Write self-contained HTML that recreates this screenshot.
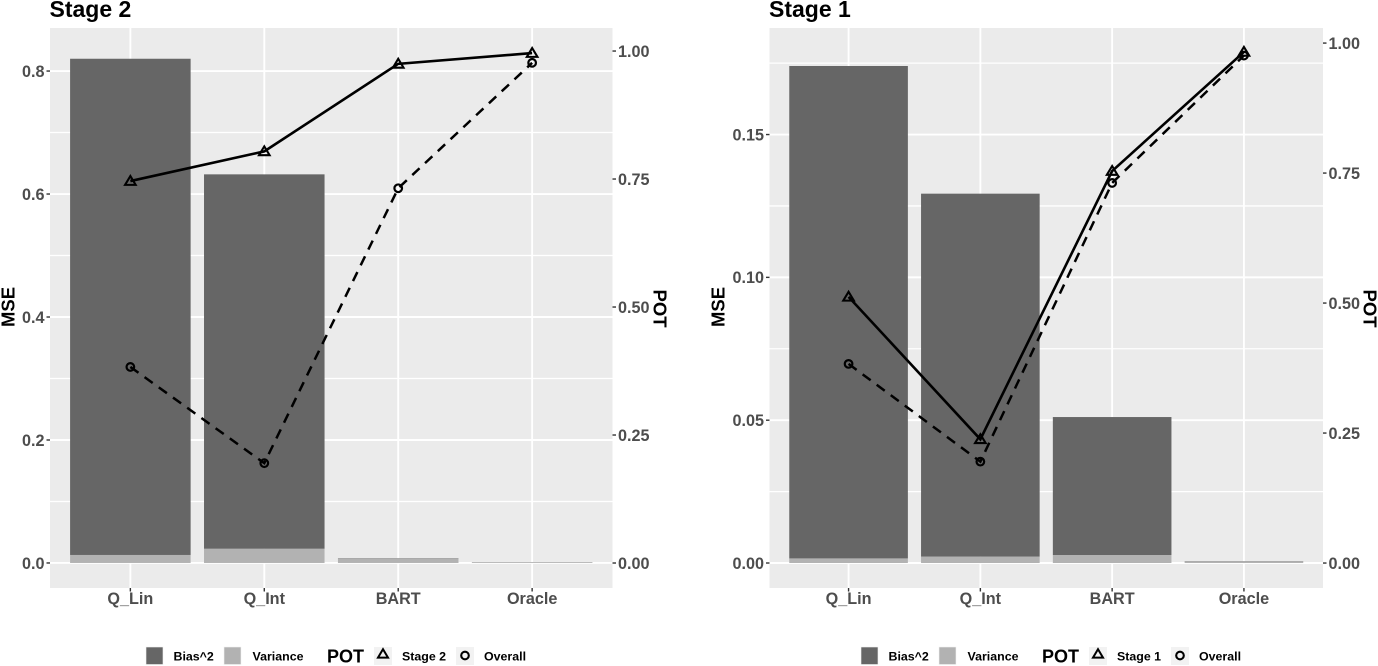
<!DOCTYPE html>
<html lang="en">
<head>
<meta charset="utf-8">
<title>Stage 2 and Stage 1 MSE and POT</title>
<style>
html,body{margin:0;padding:0;background:#fff;width:1378px;height:666px;overflow:hidden}
svg{display:block}
text{font-family:"Liberation Sans",Arial,sans-serif;font-weight:bold}
.tick{font-size:16.2px;fill:#4d4d4d}
.axt{font-size:18.5px;fill:#000}
.ttl{font-size:23px;fill:#000}
.leg{font-size:12.4px;fill:#000}
.legt{font-size:18px;fill:#000}
</style>
</head>
<body>
<svg id="figure" xmlns="http://www.w3.org/2000/svg" width="1378" height="666" viewBox="0 0 1378 666"></svg>
<script>
const categories = ["Q_Lin", "Q_Int", "BART", "Oracle"];

const stage2Bias = [0.807, 0.609, 0.0005, 0.0003];
const stage2Variance = [0.013, 0.023, 0.0075, 0.001];
const stage2PotStage = [0.746, 0.804, 0.975, 0.996];
const stage2PotOverall = [0.383, 0.195, 0.732, 0.977];
const stage2MseTicks = ["0.0", "0.2", "0.4", "0.6", "0.8"];
const stage2PotTicks = ["0.00", "0.25", "0.50", "0.75", "1.00"];

const stage1Bias = [0.1724, 0.1271, 0.0483, 0.0001];
const stage1Variance = [0.0016, 0.0022, 0.0028, 0.0006];
const stage1PotStage = [0.512, 0.238, 0.754, 0.983];
const stage1PotOverall = [0.383, 0.195, 0.731, 0.976];
const stage1MseTicks = ["0.00", "0.05", "0.10", "0.15"];
const stage1PotTicks = ["0.00", "0.25", "0.50", "0.75", "1.00"];

const NS = "http://www.w3.org/2000/svg";
const figure = document.getElementById("figure");

function make(parent, tag, props, content) {
  const el = document.createElementNS(NS, tag);
  for (const k in props) el.setAttribute(k, props[k]);
  if (content !== undefined) el.textContent = content;
  parent.appendChild(el);
  return el;
}

function drawPanel(cfg) {
  const xOf = v => cfg.left + (v + 1 - 0.4) / 4.2 * (cfg.right - cfg.left);
  const bandWidth = (cfg.right - cfg.left) / 4.2;
  const mseY = v => cfg.bottom - (v - cfg.mseDomain[0]) / (cfg.mseDomain[1] - cfg.mseDomain[0]) * (cfg.bottom - cfg.top);
  const potY = v => cfg.bottom - (v - cfg.potDomain[0]) / (cfg.potDomain[1] - cfg.potDomain[0]) * (cfg.bottom - cfg.top);

  const g = make(figure, "g", {});
  
  

  const title = make(g, "text", {x: cfg.left - 0.5, y: 17, class: "ttl"}, cfg.title);
  
  

  const bg = make(g, "rect", {x: cfg.left, y: cfg.top, width: cfg.right - cfg.left, height: cfg.bottom - cfg.top, fill: "#ebebeb"});
  
  

  // minor horizontal grid (midpoints of major ticks, extended one step above)
  const majors = cfg.mseTicks.map(Number);
  const step = majors[1] - majors[0];
  for (let i = 0; i < majors.length + 1; i++) {
    const v = majors[0] + step * (i + 0.5);
    if (mseY(v) <= cfg.top) continue;
    const minor = make(g, "line", {x1: cfg.left, x2: cfg.right, y1: mseY(v), y2: mseY(v), stroke: "#fff", "stroke-width": 1.3});
    
    
  }
  cfg.mseTicks.forEach(t => {
    const major = make(g, "line", {x1: cfg.left, x2: cfg.right, y1: mseY(+t), y2: mseY(+t), stroke: "#fff", "stroke-width": 1.9});
    
    
  });
  categories.forEach((c, i) => {
    const vline = make(g, "line", {x1: xOf(i), x2: xOf(i), y1: cfg.top, y2: cfg.bottom, stroke: "#fff", "stroke-width": 1.9});
    
    
  });

  // stacked bars
  categories.forEach((c, i) => {
    const w = bandWidth * 0.9;
    const v = cfg.variance[i], b = cfg.bias[i];
    const biasBar = make(g, "rect", {x: xOf(i) - w / 2, y: mseY(v + b), width: w, height: mseY(v) - mseY(v + b), fill: "#666666"});
    
    
    const varBar = make(g, "rect", {x: xOf(i) - w / 2, y: mseY(v), width: w, height: mseY(0) - mseY(v), fill: "#b2b2b2"});
    
    
  });

  // POT lines
  const stagePts = cfg.potStage.map((v, i) => xOf(i) + "," + potY(v)).join(" ");
  const overallPts = cfg.potOverall.map((v, i) => xOf(i) + "," + potY(v)).join(" ");
  const overallLine = make(g, "polyline", {points: overallPts, fill: "none", stroke: "#000", "stroke-width": 2.5, "stroke-dasharray": "10 7.5"});
  
  
  const stageLine = make(g, "polyline", {points: stagePts, fill: "none", stroke: "#000", "stroke-width": 2.6});
  
  

  cfg.potStage.forEach((v, i) => {
    const x = xOf(i), y = potY(v);
    const tri = make(g, "polygon", {points: (x - 5.3) + "," + (y + 3.8) + " " + (x + 5.3) + "," + (y + 3.8) + " " + x + "," + (y - 5), fill: "none", stroke: "#000", "stroke-width": 2.1});
    
    
  });
  cfg.potOverall.forEach((v, i) => {
    const pt = make(g, "circle", {cx: xOf(i), cy: potY(v), r: 3.8, fill: "none", stroke: "#000", "stroke-width": 2.2});
    
    
  });

  // left axis
  cfg.mseTicks.forEach(t => {
    const y = mseY(+t);
    const mark = make(g, "line", {x1: cfg.left - 3.5, x2: cfg.left, y1: y, y2: y, stroke: "#333", "stroke-width": 1.4});
    
    
    const lab = make(g, "text", {x: cfg.left - 5.5, y: y + 5.8, "text-anchor": "end", class: "tick"}, t);
    
    
  });
  // right axis
  cfg.potTicks.forEach(t => {
    const y = potY(+t);
    const mark = make(g, "line", {x1: cfg.right, x2: cfg.right + 3.5, y1: y, y2: y, stroke: "#333", "stroke-width": 1.4});
    
    
    const lab = make(g, "text", {x: cfg.right + 5.5, y: y + 5.8, class: "tick"}, t);
    
    
  });
  // bottom axis
  categories.forEach((c, i) => {
    const mark = make(g, "line", {x1: xOf(i), x2: xOf(i), y1: cfg.bottom, y2: cfg.bottom + 3.5, stroke: "#333", "stroke-width": 1.4});
    
    
    const lab = make(g, "text", {x: xOf(i), y: 604, "text-anchor": "middle", class: "tick"}, c);
    
    
  });

  const mseTitle = make(g, "text", {transform: "translate(" + (cfg.mseX) + ",307) rotate(-90)", "text-anchor": "middle", class: "axt"}, "MSE");
  
  
  const potTitle = make(g, "text", {transform: "translate(" + (cfg.potX) + ",308.5) rotate(90)", "text-anchor": "middle", class: "axt"}, "POT");
  
  

  // legend
  const legend = make(g, "g", {transform: "translate(" + cfg.legendDx + ",0)"});
  
  

  const sw1 = make(legend, "rect", {x: 146, y: 647, width: 17, height: 17.5, fill: "#666666", stroke: "#f2f2f2", "stroke-width": 0.6});
  
  
  const t1 = make(legend, "text", {x: 173.5, y: 660.5, class: "leg"}, "Bias^2");
  
  
  const sw2 = make(legend, "rect", {x: 224, y: 647, width: 17, height: 17.5, fill: "#b2b2b2", stroke: "#f2f2f2", "stroke-width": 0.6});
  
  
  const t2 = make(legend, "text", {x: 252.5, y: 660.5, class: "leg"}, "Variance");
  
  
  const t3 = make(legend, "text", {x: 327, y: 662.5, class: "legt"}, "POT");
  
  
  const k1 = make(legend, "rect", {x: 374, y: 647, width: 18, height: 18, fill: "#f2f2f2"});
  
  
  const m1 = make(legend, "polygon", {points: "378,657.6 388,657.6 383,649.2", fill: "none", stroke: "#000", "stroke-width": 2});
  
  
  const t4 = make(legend, "text", {x: 402, y: 660.5, class: "leg"}, cfg.stageLabel);
  
  
  const k2 = make(legend, "rect", {x: 456, y: 647, width: 18, height: 18, fill: "#f2f2f2"});
  
  
  const m2 = make(legend, "circle", {cx: 465, cy: 655.5, r: 3.8, fill: "none", stroke: "#000", "stroke-width": 2.1});
  
  
  const t5 = make(legend, "text", {x: 484, y: 660.5, class: "leg"}, "Overall");
  
  
}

drawPanel({
  key: "stage-2", title: "Stage 2", stageLabel: "Stage 2",
  left: 50, right: 612.5, top: 28, bottom: 588,
  mseDomain: [-0.0407, 0.87], potDomain: [-0.0488, 1.045],
  bias: stage2Bias, variance: stage2Variance,
  potStage: stage2PotStage, potOverall: stage2PotOverall,
  mseTicks: stage2MseTicks, potTicks: stage2PotTicks,
  mseX: 14.5, potX: 653.5, legendDx: 0
});
drawPanel({
  key: "stage-1", title: "Stage 1", stageLabel: "Stage 1",
  left: 769.5, right: 1323, top: 28, bottom: 588,
  mseDomain: [-0.00875, 0.1873], potDomain: [-0.048, 1.029],
  bias: stage1Bias, variance: stage1Variance,
  potStage: stage1PotStage, potOverall: stage1PotOverall,
  mseTicks: stage1MseTicks, potTicks: stage1PotTicks,
  mseX: 724.5, potX: 1363.5, legendDx: 715
});
</script>
</body>
</html>
